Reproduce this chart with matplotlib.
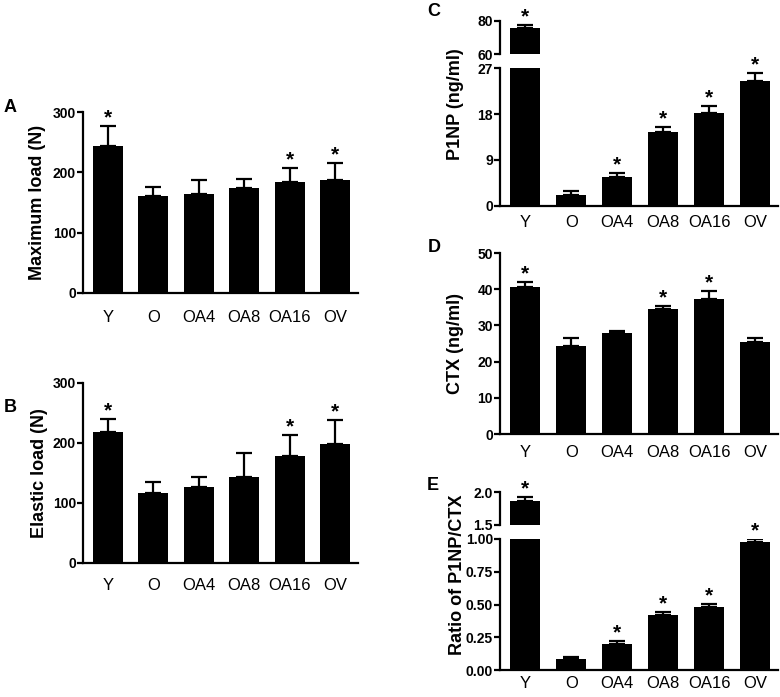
import matplotlib
matplotlib.use("Agg")
import matplotlib.pyplot as plt

plt.rcParams['font.family'] = ['Liberation Sans', 'DejaVu Sans']

groups = ["Y", "O", "OA4", "OA8", "OA16", "OV"]

max_load = [244, 160, 164, 174, 184, 187]
max_load_err = [32, 16, 23, 15, 24, 29]
max_load_sig = [1, 0, 0, 0, 1, 1]

elastic_load = [219, 117, 127, 144, 178, 198]
elastic_load_err = [21, 18, 17, 39, 36, 40]
elastic_load_sig = [1, 0, 0, 0, 1, 1]

p1np = [75.8, 2.2, 5.7, 14.4, 18.2, 24.6]
p1np_err = [1.6, 0.7, 0.8, 1.1, 1.4, 1.5]
p1np_sig = [1, 0, 1, 1, 1, 1]

ctx = [40.6, 24.4, 27.8, 34.4, 37.4, 25.3]
ctx_err = [1.5, 2.0, 0.7, 1.0, 2.0, 1.3]
ctx_sig = [1, 0, 0, 1, 1, 0]

ratio = [1.87, 0.082, 0.199, 0.418, 0.484, 0.979]
ratio_err = [0.06, 0.02, 0.023, 0.022, 0.021, 0.02]
ratio_sig = [1, 0, 1, 1, 1, 1]

W, H = 780, 697
fig = plt.figure(figsize=(W / 100, H / 100), dpi=100)


def box(l, r, t, b):
    return [l / W, 1 - b / H, (r - l) / W, (b - t) / H]


def style(ax, bottom=True, xpad=8):
    ax.spines['top'].set_visible(False)
    ax.spines['right'].set_visible(False)
    ax.spines['left'].set_linewidth(1.6)
    ax.spines['bottom'].set_linewidth(1.6)
    if not bottom:
        ax.spines['bottom'].set_visible(False)
    ax.tick_params(axis='y', length=4, width=1.6, pad=1, labelsize=10)
    ax.tick_params(axis='x', length=0, pad=xpad, labelsize=12)
    for t in ax.get_yticklabels():
        t.set_fontweight('bold')
    ax.set_xlim(-0.55, 5.5)
    ax.patch.set_alpha(0)


def bars(ax, vals, errs, sig, clip_top=None, star=True):
    x = range(len(vals))
    ax.bar(x, vals, width=0.66, color='black', zorder=2)
    ax.errorbar(x, vals, yerr=[[0] * len(vals), errs], fmt='none', ecolor='black',
                elinewidth=1.6, capsize=6, capthick=1.6, zorder=1)
    if star:
        for i, (v, e, s) in enumerate(zip(vals, errs, sig)):
            if s and (clip_top is None or v + e <= clip_top):
                ax.annotate('*', (i, v + e), xytext=(0, -1), textcoords='offset points',
                            ha='center', va='bottom', fontsize=15, fontweight='bold',
                            annotation_clip=False)


def simple_panel(rect, vals, errs, sig, ylim, ticks, label, letter, lpos, labx, xpad):
    ax = fig.add_axes(box(*rect))
    bars(ax, vals, errs, sig)
    ax.set_ylim(*ylim)
    ax.set_yticks(ticks)
    ax.set_xticks(range(len(groups)))
    ax.set_xticklabels(groups)
    style(ax, xpad=xpad)
    fig.text(labx / W, 1 - (rect[2] + rect[3]) / 2 / H, label, rotation=90,
             ha='center', va='center', fontsize=13, fontweight='bold')
    fig.text(lpos[0] / W, 1 - lpos[1] / H, letter, ha='left', va='center',
             fontsize=13, fontweight='bold')
    return ax


# A
simple_panel((83, 358, 112, 293), max_load, max_load_err, max_load_sig, (0, 300),
             [0, 100, 200, 300], "Maximum load (N)", "A", (4, 108), 38, 12)
# B
simple_panel((83, 358, 383, 563), elastic_load, elastic_load_err, elastic_load_sig, (0, 300),
             [0, 100, 200, 300], "Elastic load (N)", "B", (4, 407), 40, 11)
# D
simple_panel((500, 778, 253, 434), ctx, ctx_err, ctx_sig, (0, 50),
             [0, 10, 20, 30, 40, 50], "CTX (ng/ml)", "D", (428, 247), 455, 8)


def broken_panel(low_rect, up_rect, vals, errs, sig, low_lim, low_ticks, up_lim, up_ticks,
                 label, letter, lpos, labx, laby, xpad, low_fmt=None):
    lo = fig.add_axes(box(*low_rect))
    up = fig.add_axes(box(*up_rect))
    bars(lo, vals, errs, sig, clip_top=low_lim[1])
    bars(up, vals, errs, [s if v + e > low_lim[1] else 0 for v, e, s in zip(vals, errs, sig)])
    lo.set_ylim(*low_lim)
    lo.set_yticks(low_ticks)
    if low_fmt:
        lo.set_yticklabels([low_fmt.format(t) for t in low_ticks])
    up.set_ylim(*up_lim)
    up.set_yticks(up_ticks)
    lo.set_xticks(range(len(groups)))
    lo.set_xticklabels(groups)
    up.set_xticks([])
    style(lo, xpad=xpad)
    style(up, bottom=False)
    fig.text(labx / W, 1 - laby / H, label, rotation=90, ha='center', va='center',
             fontsize=13, fontweight='bold')
    fig.text(lpos[0] / W, 1 - lpos[1] / H, letter, ha='left', va='center',
             fontsize=13, fontweight='bold')


# C
broken_panel((500, 778, 68.3, 205.7), (500, 778, 20.7, 54.3), p1np, p1np_err, p1np_sig,
             (0, 27), [0, 9, 18, 27], (60, 80), [60, 80],
             "P1NP (ng/ml)", "C", (427, 12), 455, 104, 6.5)
# E
broken_panel((500, 778, 539, 670), (500, 778, 492.3, 525), ratio, ratio_err, ratio_sig,
             (0, 1.0), [0, 0.25, 0.5, 0.75, 1.0], (1.5, 2.0), [1.5, 2.0],
             "Ratio of P1NP/CTX", "E", (427, 485), 458, 575, 4.5, low_fmt="{:.2f}")

fig.savefig("out.png", dpi=100)
